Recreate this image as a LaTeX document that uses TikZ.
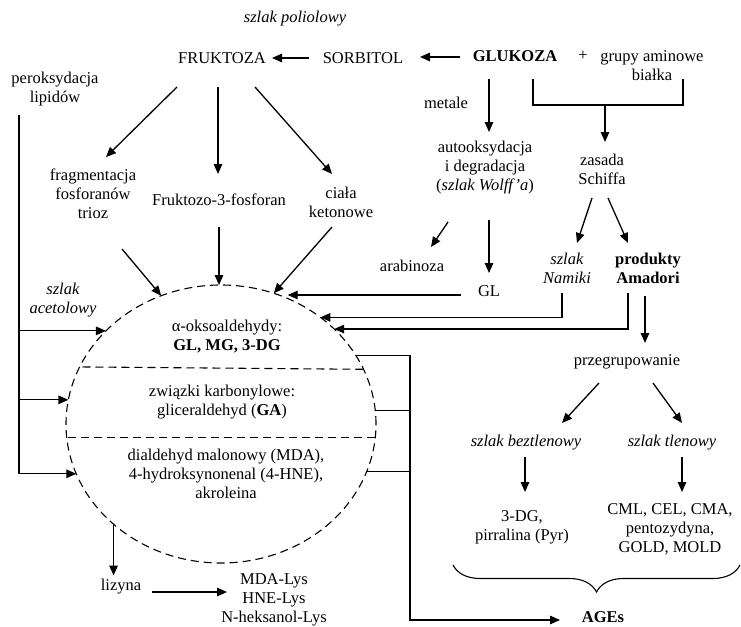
\documentclass[tikz,border=0pt]{standalone}
\usepackage{fontspec}
\setmainfont{Liberation Serif}
\usetikzlibrary{arrows.meta,shapes.geometric,decorations.pathreplacing}
\begin{document}
\begin{tikzpicture}[x=1pt, y=-1pt, line width=1.3pt,
    font=\fontsize{16.5}{19}\selectfont,
    every node/.style={inner sep=0pt, outer sep=0pt, align=center},
    arr/.style={-{Triangle[length=10pt,width=8.5pt]}},
    dashline/.style={line width=1.1pt, dash pattern=on 8pt off 5pt}]
    \useasboundingbox (0,0) rectangle (741,626);
    \node (poliol) at (295,19) {\textit{szlak poliolowy}};
    \node (fru) at (222,58) {FRUKTOZA};
    \node (sorb) at (363,58) {SORBITOL};
    \node (glu) at (515,56) {\textbf{GLUKOZA}};
    \node (plus) at (583,56) {+};
    \node (amin) at (652,66) {grupy aminowe\\białka};
    \node (perox) at (55,89) {peroksydacja\\lipidów};
    \node (frag) at (93,194) {fragmentacja\\fosforanów\\trioz};
    \node (f3f) at (219,200) {Fruktozo-3-fosforan};
    \node (ket) at (341,202) {ciała\\ketonowe};
    \node (metale) at (446,103) {metale};
    \node (auto) at (485,168) {autooksydacja\\i degradacja\\(\textit{szlak Wolff’a})};
    \node (schiff) at (602,169) {zasada\\Schiffa};
    \node (namiki) at (567,268) {\textit{szlak}\\\textit{Namiki}};
    \node (amad) at (648,268) {\textbf{produkty}\\\textbf{Amadori}};
    \node (arab) at (412,266) {arabinoza};
    \node (gl) at (489,291) {GL};
    \node (acet) at (63,300) {\textit{szlak}\\\textit{acetolowy}};
    \node (przeg) at (627,362) {przegrupowanie};
    \node (bez) at (526,443) {\textit{szlak beztlenowy}};
    \node (tlen) at (672,443) {\textit{szlak tlenowy}};
    \node (pyr) at (522,527) {3-DG,\\pirralina (Pyr)};
    \node (cml) at (670,529) {CML, CEL, CMA,\\pentozydyna,\\GOLD, MOLD};
    \node (ages) at (603,617) {\textbf{AGEs}};
    \node (lizyna) at (121,587) {lizyna};
    \node (lys) at (274,600) {MDA-Lys\\HNE-Lys\\N-heksanol-Lys};
    \node[ellipse, draw, dashline, minimum width=310pt, minimum height=278pt] (pool) at (221,424) {};
    \node (alfa) at (227,337) {α-oksoaldehydy:\\\textbf{GL, MG, 3-DG}};
    \node (karb) at (222,402) {związki karbonylowe:\\gliceraldehyd (\textbf{GA})};
    \node (mda) at (226,474) {dialdehyd malonowy (MDA),\\4-hydroksynonenal (4-HNE),\\akroleina};
    \draw[dashline] (pool.21.7) -- (pool.158.3);
    \draw[dashline] (pool.-5.6) -- (pool.185.6);
    \coordinate (join) at (605,105);
    \coordinate (trunk) at ([shift={(-36,26)}]perox.center);
    \coordinate (bus) at (410,0);
    \coordinate (glout) at ([shift={(-28,4)}]gl.center);
    \draw[arr] ([shift={(-54,0)}]sorb.center) -- ([shift={(50,0)}]fru.center);
    \draw[arr] ([shift={(-55,1)}]glu.center) -- ([shift={(57,-1)}]sorb.center);
    \draw[arr] ([shift={(-45,29)}]fru.center) -- ([shift={(13,-37)}]frag.center);
    \draw[arr] ([shift={(-4,29)}]fru.center) -- ([shift={(-1,-26)}]f3f.center);
    \draw[arr] ([shift={(33,29)}]fru.center) -- ([shift={(-9,-28)}]ket.center);
    \draw[arr] ([shift={(-26,23)}]glu.center) -- ([shift={(4,-36)}]auto.center);
    \draw ([shift={(18,23)}]glu.center) |- (join) -| ([shift={(31,13)}]amin.center);
    \draw[arr] (join) -- ([shift={(3,-27)}]schiff.center);
    \draw[arr] ([shift={(-37,54)}]auto.center) -- ([shift={(19,-19)}]arab.center);
    \draw[arr] ([shift={(4,52)}]auto.center) -- ([shift={(0,-18)}]gl.center);
    \draw[arr] ([shift={(-10,29)}]schiff.center) -- ([shift={(10,-25)}]namiki.center);
    \draw[arr] ([shift={(6,29)}]schiff.center) -- ([shift={(-20,-25)}]amad.center);
    \draw[arr] ([shift={(29,55)}]frag.center) -- (pool.115);
    \draw[arr] ([shift={(0,27)}]f3f.center) -- (f3f |- pool.north);
    \draw[arr] ([shift={(-9,25)}]ket.center) -- (pool.68);
    \draw[arr] (glout) -- (glout -| pool.62);
    \draw[arr] ([shift={(-5,25)}]namiki.center) |- (pool.47);
    \draw[arr] ([shift={(-20,25)}]amad.center) |- (pool.40);
    \draw[arr] (trunk) |- (pool.199);
    \draw[arr] (trunk |- pool.141) -- (pool.141);
    \draw[arr] (trunk |- pool.171) -- (pool.171);
    \draw[arr] ([shift={(-3,28)}]amad.center) -- ([shift={(18,-19)}]przeg.center);
    \draw[arr] ([shift={(-28,21)}]przeg.center) -- ([shift={(36,-20)}]bez.center);
    \draw[arr] ([shift={(26,21)}]przeg.center) -- ([shift={(10,-20)}]tlen.center);
    \draw[arr] ([shift={(-1,14)}]bez.center) -- ([shift={(3,-35)}]pyr.center);
    \draw[arr] ([shift={(10,14)}]tlen.center) -- ([shift={(12,-37)}]cml.center);
    \draw[decorate, decoration={brace, mirror, amplitude=27pt}, line width=1.1pt] (453,565) -- (740,565);
    \draw[arr] (pool.27) -- (pool.27 -| bus) |- ([shift={(-43,3)}]ages.center);
    \draw (pool.5) -- (pool.5 -| bus);
    \draw (pool.-18) -- (pool.-18 -| bus);
    \draw[arr, shorten >=4pt] (pool.223) -- (pool.223 |- lizyna.north);
    \draw[arr] ([shift={(31,5)}]lizyna.center) -- ([shift={(-47,-8)}]lys.center);
\end{tikzpicture}
\end{document}
